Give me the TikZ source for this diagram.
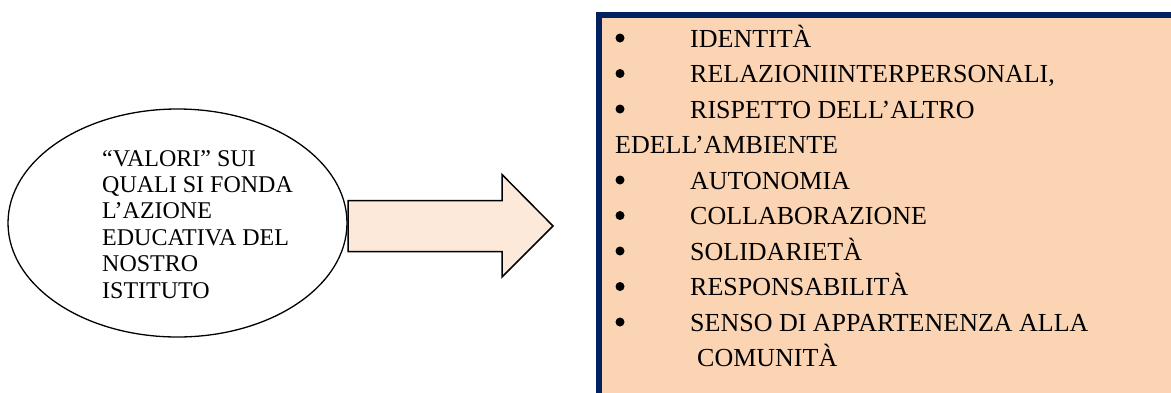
\documentclass[tikz,border=0pt]{standalone}
\usepackage{fontspec}
\setmainfont{Liberation Serif}
\usetikzlibrary{shapes.geometric}
\definecolor{navy}{HTML}{002060}
\definecolor{peach}{HTML}{FBD4B4}
\definecolor{lightpeach}{HTML}{FDE9D9}
\tikzset{
  voce/.style={anchor=base west, inner sep=0pt, font=\fontsize{26}{30}\selectfont},
  riga/.style={anchor=base west, inner sep=0pt, font=\fontsize{24}{27}\selectfont},
  punto/.style={circle, fill=black, inner sep=0pt, minimum size=9pt},
}
\begin{document}
\begin{tikzpicture}[x=1pt, y=-1pt]
    \useasboundingbox (0,0) rectangle (1171,392);
    \clip (0,0) rectangle (1171,392);

    % box with the list of values
    \draw[navy, line width=5.5pt, fill=peach] (599,15) rectangle (1200,420);

    % ellipse on the left
    \node[ellipse, draw, line width=1.3pt, minimum width=339pt, minimum height=228pt, inner sep=0pt] (valori) at (177.5,223) {};
    \foreach \t [count=\i from 0] in {“VALORI” SUI, QUALI SI FONDA, L’AZIONE, EDUCATIVA DEL, NOSTRO, ISTITUTO}
        \node[riga] (riga-\i) at (102,166+26.4*\i) {\t};

    % block arrow
    \coordinate (coda) at (348,226);
    \coordinate (punta) at (553,226);
    \draw[line width=1.5pt, fill=lightpeach, line join=miter]
        (coda) ++(0,-25.5) -- ++(154,0) -- ++(0,-26) -- (punta)
        -- (502,277) -- ++(0,-25.5) -- ++(-154,0) -- cycle;

    % list items: x of text, bullet or not
    \foreach \t/\xt/\b [count=\i from 0] in {
        IDENTITÀ/690/1,
        {RELAZIONIINTERPERSONALI,}/690/1,
        RISPETTO DELL’ALTRO/690/1,
        EDELL’AMBIENTE/615/0,
        AUTONOMIA/690/1,
        COLLABORAZIONE/690/1,
        SOLIDARIETÀ/690/1,
        RESPONSABILITÀ/690/1,
        SENSO DI APPARTENENZA ALLA/690/1,
        COMUNITÀ/697/0}
    {
        \node[voce] (voce-\i) at (\xt,47+35.5*\i) {\t};
        \ifnum\b=1
            \node[punto] (punto-\i) at (620,38+35.5*\i) {};
        \fi
    }
\end{tikzpicture}
\end{document}
